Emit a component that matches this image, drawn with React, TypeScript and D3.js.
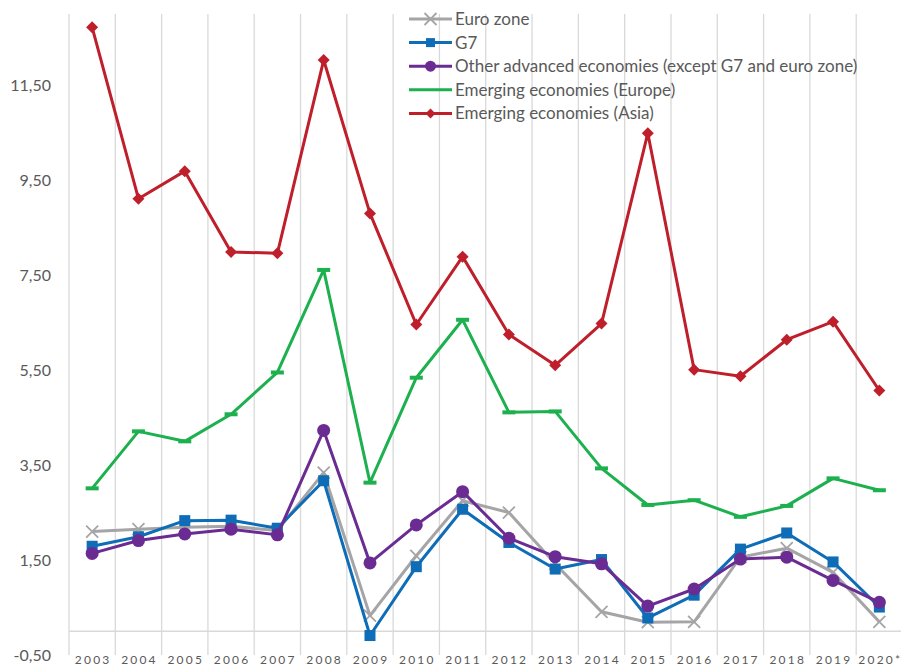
import React, { useEffect, useRef } from "react";
import * as d3 from "d3";

const years = [
  "2003", "2004", "2005", "2006", "2007", "2008", "2009", "2010", "2011",
  "2012", "2013", "2014", "2015", "2016", "2017", "2018", "2019", "2020*",
];

const euroZone = [2.1, 2.15, 2.19, 2.21, 2.12, 3.34, 0.33, 1.59, 2.75, 2.5, 1.42, 0.41, 0.19, 0.2, 1.56, 1.75, 1.24, 0.2];
const g7 = [1.79, 1.99, 2.33, 2.34, 2.17, 3.17, -0.09, 1.36, 2.57, 1.87, 1.31, 1.51, 0.28, 0.76, 1.73, 2.07, 1.46, 0.51];
const otherAdvanced = [1.64, 1.91, 2.05, 2.15, 2.03, 4.23, 1.44, 2.24, 2.94, 1.96, 1.57, 1.42, 0.53, 0.89, 1.52, 1.56, 1.07, 0.61];
const emergingEurope = [3.01, 4.21, 4.0, 4.57, 5.45, 7.61, 3.13, 5.34, 6.56, 4.61, 4.63, 3.43, 2.66, 2.76, 2.41, 2.64, 3.22, 2.97];
const emergingAsia = [12.72, 9.11, 9.69, 7.99, 7.96, 12.03, 8.8, 6.46, 7.89, 6.25, 5.6, 6.48, 10.49, 5.51, 5.37, 6.14, 6.52, 5.07];

const yTicks = [-0.5, 1.5, 3.5, 5.5, 7.5, 9.5, 11.5];

const series = [
  { name: "Euro zone", values: euroZone, color: "#A5A5A7", marker: "x" },
  { name: "G7", values: g7, color: "#0F6CB6", marker: "square" },
  { name: "Other advanced economies (except G7 and euro zone)", values: otherAdvanced, color: "#6A2C92", marker: "circle" },
  { name: "Emerging economies (Europe)", values: emergingEurope, color: "#1DB04E", marker: "dash" },
  { name: "Emerging economies (Asia)", values: emergingAsia, color: "#BF1E2B", marker: "diamond" },
];

const FONT = "Lato, 'Open Sans', sans-serif";

function drawMarker(g, type, x, y, color, legend = false) {
  if (type === "x") {
    const s = 6;
    g.append("path")
      .attr("d", `M${x - s},${y - s}L${x + s},${y + s}M${x - s},${y + s}L${x + s},${y - s}`)
      .attr("stroke", color)
      .attr("stroke-width", 1.8)
      .attr("fill", "none");
  } else if (type === "square") {
    const s = legend ? 9 : 11;
    g.append("rect")
      .attr("x", x - s / 2)
      .attr("y", y - s / 2)
      .attr("width", s)
      .attr("height", s)
      .attr("fill", color);
  } else if (type === "circle") {
    g.append("circle")
      .attr("cx", x)
      .attr("cy", y)
      .attr("r", legend ? 5.5 : 6.5)
      .attr("fill", color);
  } else if (type === "diamond") {
    const s = legend ? 5 : 6;
    g.append("path")
      .attr("d", `M${x},${y - s}L${x + s},${y}L${x},${y + s}L${x - s},${y}Z`)
      .attr("fill", color);
  } else if (type === "dash" && !legend) {
    g.append("rect")
      .attr("x", x - 6.5)
      .attr("y", y - 2)
      .attr("width", 13)
      .attr("height", 4)
      .attr("fill", color);
  }
}

export default function App() {
  const ref = useRef(null);

  useEffect(() => {
    const svgEl = d3.select(ref.current);
    svgEl.selectAll("*").remove();

    const width = 901;
    const height = 666;
    const plotLeft = 69;
    const plotRight = 902.5;
    const plotTop = 14;
    const plotBottom = 655;

    const x = d3.scaleBand().domain(years).range([plotLeft, plotRight]).padding(0);
    const y = d3.scaleLinear().domain([-0.5, 13]).range([plotBottom, plotTop]);

    const svg = svgEl.attr("width", width).attr("height", height);

    // vertical category gridlines
    const grid = svg.append("g");
    years.forEach((yr) => {
      grid.append("line")
        .attr("x1", x(yr))
        .attr("x2", x(yr))
        .attr("y1", plotTop)
        .attr("y2", plotBottom)
        .attr("stroke", "#D9D9D9")
        .attr("stroke-width", 1.3);
    });

    // horizontal axis at zero
    grid.append("line")
      .attr("x1", plotLeft)
      .attr("x2", plotRight)
      .attr("y1", y(0))
      .attr("y2", y(0))
      .attr("stroke", "#D9D9D9")
      .attr("stroke-width", 1.3);

    // y tick labels
    svg.append("g")
      .selectAll("text")
      .data(yTicks)
      .enter()
      .append("text")
      .attr("x", 51)
      .attr("y", (d) => y(d))
      .attr("dy", "0.35em")
      .attr("text-anchor", "end")
      .style("font-family", FONT)
      .style("font-size", "16px")
      .attr("fill", "#595959")
      .text((d) => d.toFixed(2).replace(".", ","));

    // x labels
    svg.append("g")
      .selectAll("text")
      .data(years)
      .enter()
      .append("text")
      .attr("x", (d) => x(d) + x.bandwidth() / 2 + 1)
      .attr("y", 664)
      .attr("text-anchor", "middle")
      .style("font-family", FONT)
      .style("font-size", "12px")
      .style("letter-spacing", "2.2px")
      .attr("fill", "#595959")
      .text((d) => d);

    const line = d3
      .line()
      .x((d, i) => x(years[i]) + x.bandwidth() / 2)
      .y((d) => y(d));

    series.forEach((s) => {
      const g = svg.append("g");
      g.append("path")
        .datum(s.values)
        .attr("d", line)
        .attr("fill", "none")
        .attr("stroke", s.color)
        .attr("stroke-width", 3)
        .attr("stroke-linejoin", "round");
      s.values.forEach((v, i) => {
        drawMarker(g, s.marker, x(years[i]) + x.bandwidth() / 2, y(v), s.color);
      });
    });

    // legend
    const legend = svg.append("g");
    series.forEach((s, i) => {
      const ly = 19 + i * 23.6;
      legend.append("line")
        .attr("x1", 409)
        .attr("x2", 452)
        .attr("y1", ly)
        .attr("y2", ly)
        .attr("stroke", s.color)
        .attr("stroke-width", 3);
      drawMarker(legend, s.marker, 430.5, ly, s.color, true);
      legend.append("text")
        .attr("x", 455)
        .attr("y", ly)
        .attr("dy", "0.35em")
        .style("font-family", FONT)
        .style("font-size", "17px")
        .attr("fill", "#595959")
        .text(s.name);
    });
  }, []);

  return <svg ref={ref} style={{ position: "absolute", left: 0, top: 0 }}></svg>;
}
